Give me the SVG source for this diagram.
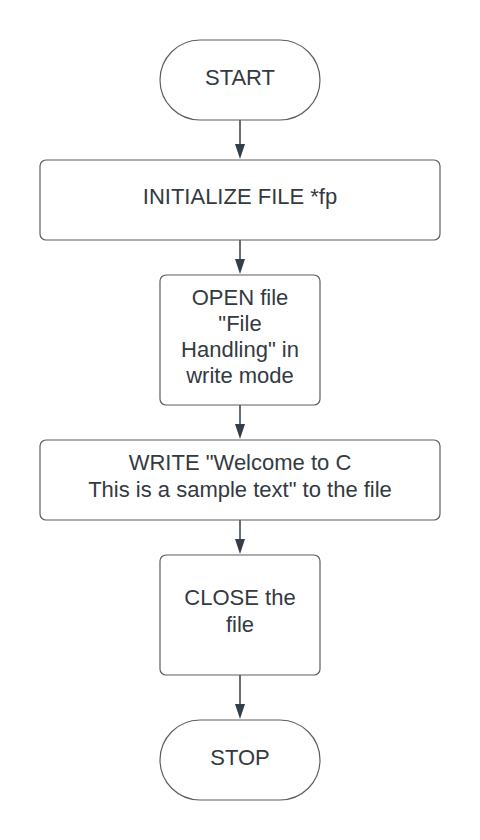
<svg xmlns="http://www.w3.org/2000/svg" width="480" height="840" viewBox="0 0 480 840">
<style>
.box{fill:#ffffff;stroke:#5e5e5e;stroke-width:1.2}
.t{font-family:"Liberation Sans",Arial,sans-serif;font-size:22px;fill:#333a42;text-anchor:middle}
.c{stroke:#333e48;stroke-width:1.5;fill:none}
.h{fill:#333e48}
</style>
<rect width="480" height="840" fill="#ffffff"/>
<g id="connectors">
<line class="c" x1="240" y1="120" x2="240" y2="146"/>
<polygon class="h" points="235,144 245,144 240,159"/>
<line class="c" x1="240" y1="240" x2="240" y2="261"/>
<polygon class="h" points="235,259 245,259 240,274"/>
<line class="c" x1="240" y1="405" x2="240" y2="426"/>
<polygon class="h" points="235,424 245,424 240,439"/>
<line class="c" x1="240" y1="520" x2="240" y2="541"/>
<polygon class="h" points="235,539 245,539 240,554"/>
<line class="c" x1="240" y1="675" x2="240" y2="706"/>
<polygon class="h" points="235,704 245,704 240,719"/>
</g>
<g id="start">
<rect class="box" x="160" y="40" width="160" height="80" rx="40" ry="40"/>
<text class="t" x="240" y="85">START</text>
</g>
<g id="init">
<rect class="box" x="40" y="160" width="400" height="80" rx="6" ry="6"/>
<text class="t" x="240" y="204">INITIALIZE FILE *fp</text>
</g>
<g id="open">
<rect class="box" x="160" y="275" width="160" height="130" rx="6" ry="6"/>
<text class="t" x="240" y="305">OPEN file</text>
<text class="t" x="240" y="331">"File</text>
<text class="t" x="240" y="357">Handling" in</text>
<text class="t" x="240" y="383">write mode</text>
</g>
<g id="write">
<rect class="box" x="40" y="440" width="400" height="80" rx="6" ry="6"/>
<text class="t" x="240" y="470">WRITE "Welcome to C</text>
<text class="t" x="240" y="497">This is a sample text" to the file</text>
</g>
<g id="close">
<rect class="box" x="160" y="555" width="160" height="120" rx="6" ry="6"/>
<text class="t" x="240" y="605">CLOSE the</text>
<text class="t" x="240" y="632">file</text>
</g>
<g id="stop">
<rect class="box" x="160" y="720" width="160" height="80" rx="40" ry="40"/>
<text class="t" x="240" y="765">STOP</text>
</g>
</svg>
